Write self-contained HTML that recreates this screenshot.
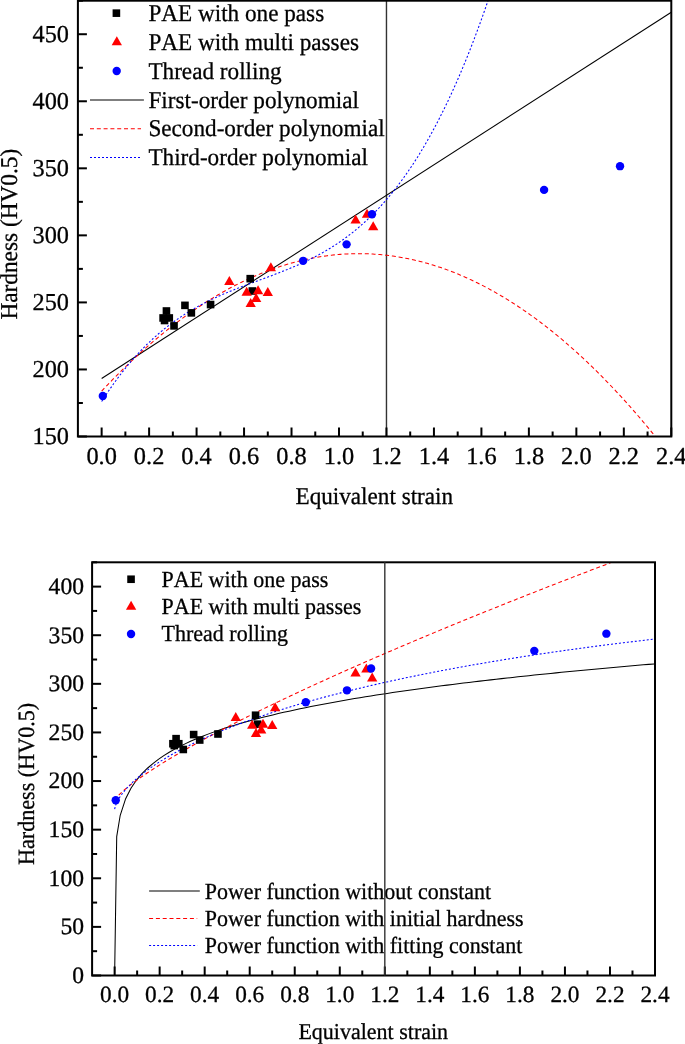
<!DOCTYPE html><html><head><meta charset="utf-8"><style>html,body{margin:0;padding:0;background:#fff;}svg{display:block} text{text-rendering:geometricPrecision;font-kerning:none;fill:#000}</style></head><body>
<svg width="685" height="1044" viewBox="0 0 685 1044" style="font-family:'Liberation Serif',serif">
<rect width="685" height="1044" fill="#fff"/>
<defs><clipPath id="ct"><rect x="77.90" y="0.70" width="593.40" height="435.80"/></clipPath>
<clipPath id="cb"><rect x="92.10" y="562.30" width="562.90" height="413.20"/></clipPath></defs>
<line x1="386.47" y1="0.70" x2="386.47" y2="436.50" stroke="#333" stroke-width="1.4"/>
<g clip-path="url(#ct)" fill="none" stroke-width="1.05">
<path d="M101.64,378.44 L671.30,12.21" stroke="#000"/>
<path d="M101.64,391.14 L103.06,389.61 L104.49,388.10 L105.92,386.59 L107.35,385.10 L108.77,383.61 L110.20,382.13 L111.63,380.66 L113.06,379.19 L114.49,377.74 L115.91,376.29 L117.34,374.86 L118.77,373.43 L120.20,372.01 L121.62,370.59 L123.05,369.19 L124.48,367.79 L125.91,366.41 L127.34,365.03 L128.76,363.66 L130.19,362.30 L131.62,360.95 L133.05,359.60 L134.47,358.26 L135.90,356.94 L137.33,355.62 L138.76,354.31 L140.18,353.01 L141.61,351.71 L143.04,350.43 L144.47,349.15 L145.90,347.88 L147.32,346.62 L148.75,345.37 L150.18,344.13 L151.61,342.89 L153.03,341.67 L154.46,340.45 L155.89,339.24 L157.32,338.04 L158.75,336.85 L160.17,335.67 L161.60,334.49 L163.03,333.33 L164.46,332.17 L165.88,331.02 L167.31,329.88 L168.74,328.74 L170.17,327.62 L171.59,326.51 L173.02,325.40 L174.45,324.30 L175.88,323.21 L177.31,322.13 L178.73,321.05 L180.16,319.99 L181.59,318.93 L183.02,317.89 L184.44,316.85 L185.87,315.82 L187.30,314.79 L188.73,313.78 L190.16,312.77 L191.58,311.78 L193.01,310.79 L194.44,309.81 L195.87,308.84 L197.29,307.87 L198.72,306.92 L200.15,305.97 L201.58,305.04 L203.00,304.11 L204.43,303.19 L205.86,302.27 L207.29,301.37 L208.72,300.48 L210.14,299.59 L211.57,298.71 L213.00,297.84 L214.43,296.98 L215.85,296.13 L217.28,295.28 L218.71,294.45 L220.14,293.62 L221.57,292.80 L222.99,291.99 L224.42,291.19 L225.85,290.39 L227.28,289.61 L228.70,288.83 L230.13,288.06 L231.56,287.30 L232.99,286.55 L234.41,285.81 L235.84,285.08 L237.27,284.35 L238.70,283.63 L240.13,282.92 L241.55,282.22 L242.98,281.53 L244.41,280.85 L245.84,280.17 L247.26,279.51 L248.69,278.85 L250.12,278.20 L251.55,277.56 L252.98,276.93 L254.40,276.30 L255.83,275.69 L257.26,275.08 L258.69,274.48 L260.11,273.89 L261.54,273.31 L262.97,272.74 L264.40,272.17 L265.82,271.62 L267.25,271.07 L268.68,270.53 L270.11,270.00 L271.54,269.48 L272.96,268.96 L274.39,268.46 L275.82,267.96 L277.25,267.47 L278.67,266.99 L280.10,266.52 L281.53,266.06 L282.96,265.60 L284.39,265.16 L285.81,264.72 L287.24,264.29 L288.67,263.87 L290.10,263.46 L291.52,263.06 L292.95,262.66 L294.38,262.27 L295.81,261.90 L297.23,261.53 L298.66,261.17 L300.09,260.81 L301.52,260.47 L302.95,260.13 L304.37,259.81 L305.80,259.49 L307.23,259.18 L308.66,258.87 L310.08,258.58 L311.51,258.30 L312.94,258.02 L314.37,257.75 L315.80,257.49 L317.22,257.24 L318.65,257.00 L320.08,256.76 L321.51,256.54 L322.93,256.32 L324.36,256.11 L325.79,255.91 L327.22,255.72 L328.64,255.54 L330.07,255.36 L331.50,255.20 L332.93,255.04 L334.36,254.89 L335.78,254.75 L337.21,254.62 L338.64,254.49 L340.07,254.38 L341.49,254.27 L342.92,254.17 L344.35,254.08 L345.78,254.00 L347.21,253.93 L348.63,253.86 L350.06,253.81 L351.49,253.76 L352.92,253.72 L354.34,253.69 L355.77,253.67 L357.20,253.65 L358.63,253.65 L360.06,253.65 L361.48,253.66 L362.91,253.68 L364.34,253.71 L365.77,253.75 L367.19,253.80 L368.62,253.85 L370.05,253.91 L371.48,253.98 L372.90,254.06 L374.33,254.15 L375.76,254.25 L377.19,254.35 L378.62,254.47 L380.04,254.59 L381.47,254.72 L382.90,254.86 L384.33,255.00 L385.75,255.16 L387.18,255.32 L388.61,255.50 L390.04,255.68 L391.47,255.87 L392.89,256.07 L394.32,256.27 L395.75,256.49 L397.18,256.71 L398.60,256.94 L400.03,257.18 L401.46,257.43 L402.89,257.69 L404.31,257.96 L405.74,258.23 L407.17,258.51 L408.60,258.81 L410.03,259.11 L411.45,259.41 L412.88,259.73 L414.31,260.06 L415.74,260.39 L417.16,260.73 L418.59,261.08 L420.02,261.44 L421.45,261.81 L422.88,262.19 L424.30,262.57 L425.73,262.96 L427.16,263.37 L428.59,263.78 L430.01,264.20 L431.44,264.62 L432.87,265.06 L434.30,265.50 L435.72,265.95 L437.15,266.42 L438.58,266.88 L440.01,267.36 L441.44,267.85 L442.86,268.34 L444.29,268.85 L445.72,269.36 L447.15,269.88 L448.57,270.41 L450.00,270.95 L451.43,271.49 L452.86,272.05 L454.29,272.61 L455.71,273.18 L457.14,273.76 L458.57,274.35 L460.00,274.94 L461.42,275.55 L462.85,276.16 L464.28,276.78 L465.71,277.41 L467.13,278.05 L468.56,278.70 L469.99,279.36 L471.42,280.02 L472.85,280.69 L474.27,281.38 L475.70,282.07 L477.13,282.76 L478.56,283.47 L479.98,284.19 L481.41,284.91 L482.84,285.64 L484.27,286.38 L485.70,287.13 L487.12,287.89 L488.55,288.66 L489.98,289.43 L491.41,290.21 L492.83,291.00 L494.26,291.80 L495.69,292.61 L497.12,293.43 L498.54,294.26 L499.97,295.09 L501.40,295.93 L502.83,296.78 L504.26,297.64 L505.68,298.51 L507.11,299.39 L508.54,300.27 L509.97,301.16 L511.39,302.07 L512.82,302.98 L514.25,303.90 L515.68,304.82 L517.11,305.76 L518.53,306.70 L519.96,307.65 L521.39,308.62 L522.82,309.59 L524.24,310.56 L525.67,311.55 L527.10,312.54 L528.53,313.55 L529.95,314.56 L531.38,315.58 L532.81,316.61 L534.24,317.65 L535.67,318.69 L537.09,319.75 L538.52,320.81 L539.95,321.88 L541.38,322.96 L542.80,324.05 L544.23,325.15 L545.66,326.25 L547.09,327.36 L548.52,328.49 L549.94,329.62 L551.37,330.76 L552.80,331.90 L554.23,333.06 L555.65,334.22 L557.08,335.40 L558.51,336.58 L559.94,337.77 L561.36,338.97 L562.79,340.17 L564.22,341.39 L565.65,342.61 L567.08,343.85 L568.50,345.09 L569.93,346.34 L571.36,347.59 L572.79,348.86 L574.21,350.13 L575.64,351.42 L577.07,352.71 L578.50,354.01 L579.93,355.32 L581.35,356.63 L582.78,357.96 L584.21,359.29 L585.64,360.64 L587.06,361.99 L588.49,363.35 L589.92,364.72 L591.35,366.09 L592.77,367.48 L594.20,368.87 L595.63,370.27 L597.06,371.68 L598.49,373.10 L599.91,374.53 L601.34,375.96 L602.77,377.41 L604.20,378.86 L605.62,380.32 L607.05,381.79 L608.48,383.27 L609.91,384.76 L611.34,386.25 L612.76,387.75 L614.19,389.27 L615.62,390.79 L617.05,392.32 L618.47,393.85 L619.90,395.40 L621.33,396.95 L622.76,398.52 L624.18,400.09 L625.61,401.67 L627.04,403.26 L628.47,404.85 L629.90,406.46 L631.32,408.07 L632.75,409.69 L634.18,411.33 L635.61,412.96 L637.03,414.61 L638.46,416.27 L639.89,417.93 L641.32,419.61 L642.75,421.29 L644.17,422.98 L645.60,424.68 L647.03,426.38 L648.46,428.10 L649.88,429.82 L651.31,431.55 L652.74,433.30 L654.17,435.04 L655.59,436.80 L657.02,438.57 L658.45,440.34 L659.88,442.13 L661.31,443.92 L662.73,445.72 L664.16,447.53 L665.59,449.34 L667.02,451.17 L668.44,453.00 L669.87,454.85 L671.30,456.70" stroke="#f00" stroke-dasharray="4,2.8"/>
<path d="M101.64,401.57 L102.65,399.98 L103.66,398.42 L104.67,396.86 L105.68,395.32 L106.69,393.80 L107.70,392.29 L108.72,390.80 L109.73,389.32 L110.74,387.86 L111.75,386.41 L112.76,384.98 L113.77,383.56 L114.78,382.15 L115.79,380.76 L116.81,379.39 L117.82,378.02 L118.83,376.68 L119.84,375.34 L120.85,374.02 L121.86,372.72 L122.87,371.42 L123.88,370.15 L124.90,368.88 L125.91,367.63 L126.92,366.39 L127.93,365.16 L128.94,363.95 L129.95,362.75 L130.96,361.56 L131.98,360.39 L132.99,359.23 L134.00,358.08 L135.01,356.94 L136.02,355.82 L137.03,354.71 L138.04,353.61 L139.05,352.52 L140.07,351.45 L141.08,350.38 L142.09,349.33 L143.10,348.29 L144.11,347.26 L145.12,346.24 L146.13,345.24 L147.14,344.24 L148.16,343.26 L149.17,342.29 L150.18,341.33 L151.19,340.38 L152.20,339.44 L153.21,338.51 L154.22,337.59 L155.24,336.68 L156.25,335.78 L157.26,334.89 L158.27,334.02 L159.28,333.15 L160.29,332.29 L161.30,331.44 L162.31,330.61 L163.33,329.78 L164.34,328.96 L165.35,328.15 L166.36,327.35 L167.37,326.56 L168.38,325.78 L169.39,325.00 L170.40,324.24 L171.42,323.49 L172.43,322.74 L173.44,322.00 L174.45,321.27 L175.46,320.55 L176.47,319.84 L177.48,319.14 L178.50,318.44 L179.51,317.75 L180.52,317.07 L181.53,316.40 L182.54,315.74 L183.55,315.08 L184.56,314.43 L185.57,313.79 L186.59,313.15 L187.60,312.52 L188.61,311.90 L189.62,311.29 L190.63,310.69 L191.64,310.09 L192.65,309.49 L193.67,308.91 L194.68,308.33 L195.69,307.75 L196.70,307.19 L197.71,306.63 L198.72,306.07 L199.73,305.52 L200.74,304.98 L201.76,304.44 L202.77,303.91 L203.78,303.39 L204.79,302.87 L205.80,302.35 L206.81,301.84 L207.82,301.34 L208.83,300.84 L209.85,300.34 L210.86,299.85 L211.87,299.37 L212.88,298.89 L213.89,298.42 L214.90,297.94 L215.91,297.48 L216.93,297.02 L217.94,296.56 L218.95,296.10 L219.96,295.65 L220.97,295.21 L221.98,294.77 L222.99,294.33 L224.00,293.89 L225.02,293.46 L226.03,293.03 L227.04,292.61 L228.05,292.19 L229.06,291.77 L230.07,291.35 L231.08,290.94 L232.09,290.53 L233.11,290.13 L234.12,289.72 L235.13,289.32 L236.14,288.92 L237.15,288.52 L238.16,288.13 L239.17,287.73 L240.19,287.34 L241.20,286.95 L242.21,286.57 L243.22,286.18 L244.23,285.80 L245.24,285.41 L246.25,285.03 L247.26,284.65 L248.28,284.27 L249.29,283.89 L250.30,283.52 L251.31,283.14 L252.32,282.77 L253.33,282.39 L254.34,282.02 L255.35,281.64 L256.37,281.27 L257.38,280.90 L258.39,280.52 L259.40,280.15 L260.41,279.78 L261.42,279.41 L262.43,279.03 L263.45,278.66 L264.46,278.29 L265.47,277.91 L266.48,277.54 L267.49,277.16 L268.50,276.78 L269.51,276.40 L270.52,276.03 L271.54,275.65 L272.55,275.26 L273.56,274.88 L274.57,274.50 L275.58,274.11 L276.59,273.73 L277.60,273.34 L278.61,272.95 L279.63,272.55 L280.64,272.16 L281.65,271.76 L282.66,271.36 L283.67,270.96 L284.68,270.56 L285.69,270.15 L286.71,269.74 L287.72,269.33 L288.73,268.91 L289.74,268.49 L290.75,268.07 L291.76,267.65 L292.77,267.22 L293.78,266.79 L294.80,266.36 L295.81,265.92 L296.82,265.48 L297.83,265.03 L298.84,264.58 L299.85,264.13 L300.86,263.67 L301.88,263.21 L302.89,262.74 L303.90,262.27 L304.91,261.80 L305.92,261.32 L306.93,260.84 L307.94,260.35 L308.95,259.85 L309.97,259.36 L310.98,258.85 L311.99,258.34 L313.00,257.83 L314.01,257.31 L315.02,256.79 L316.03,256.25 L317.04,255.72 L318.06,255.18 L319.07,254.63 L320.08,254.07 L321.09,253.51 L322.10,252.95 L323.11,252.38 L324.12,251.80 L325.14,251.21 L326.15,250.62 L327.16,250.02 L328.17,249.42 L329.18,248.80 L330.19,248.18 L331.20,247.56 L332.21,246.92 L333.23,246.28 L334.24,245.63 L335.25,244.98 L336.26,244.32 L337.27,243.64 L338.28,242.96 L339.29,242.28 L340.30,241.58 L341.32,240.88 L342.33,240.17 L343.34,239.45 L344.35,238.72 L345.36,237.98 L346.37,237.24 L347.38,236.49 L348.40,235.72 L349.41,234.95 L350.42,234.17 L351.43,233.38 L352.44,232.58 L353.45,231.77 L354.46,230.96 L355.47,230.13 L356.49,229.29 L357.50,228.45 L358.51,227.59 L359.52,226.72 L360.53,225.85 L361.54,224.96 L362.55,224.06 L363.56,223.16 L364.58,222.24 L365.59,221.31 L366.60,220.37 L367.61,219.42 L368.62,218.46 L369.63,217.49 L370.64,216.51 L371.66,215.52 L372.67,214.51 L373.68,213.50 L374.69,212.47 L375.70,211.43 L376.71,210.38 L377.72,209.32 L378.73,208.25 L379.75,207.16 L380.76,206.06 L381.77,204.95 L382.78,203.83 L383.79,202.69 L384.80,201.55 L385.81,200.39 L386.82,199.22 L387.84,198.03 L388.85,196.83 L389.86,195.62 L390.87,194.40 L391.88,193.16 L392.89,191.91 L393.90,190.65 L394.92,189.37 L395.93,188.08 L396.94,186.77 L397.95,185.46 L398.96,184.12 L399.97,182.78 L400.98,181.42 L401.99,180.04 L403.01,178.66 L404.02,177.25 L405.03,175.84 L406.04,174.40 L407.05,172.96 L408.06,171.50 L409.07,170.02 L410.09,168.53 L411.10,167.02 L412.11,165.50 L413.12,163.97 L414.13,162.41 L415.14,160.85 L416.15,159.26 L417.16,157.67 L418.18,156.05 L419.19,154.42 L420.20,152.77 L421.21,151.11 L422.22,149.43 L423.23,147.74 L424.24,146.03 L425.25,144.30 L426.27,142.56 L427.28,140.80 L428.29,139.02 L429.30,137.22 L430.31,135.41 L431.32,133.58 L432.33,131.74 L433.35,129.87 L434.36,127.99 L435.37,126.10 L436.38,124.18 L437.39,122.25 L438.40,120.30 L439.41,118.33 L440.42,116.34 L441.44,114.34 L442.45,112.31 L443.46,110.27 L444.47,108.21 L445.48,106.13 L446.49,104.04 L447.50,101.92 L448.51,99.79 L449.53,97.63 L450.54,95.46 L451.55,93.27 L452.56,91.06 L453.57,88.83 L454.58,86.58 L455.59,84.31 L456.61,82.02 L457.62,79.71 L458.63,77.39 L459.64,75.04 L460.65,72.67 L461.66,70.28 L462.67,67.87 L463.68,65.45 L464.70,63.00 L465.71,60.53 L466.72,58.04 L467.73,55.53 L468.74,53.00 L469.75,50.44 L470.76,47.87 L471.77,45.28 L472.79,42.66 L473.80,40.02 L474.81,37.36 L475.82,34.68 L476.83,31.98 L477.84,29.26 L478.85,26.51 L479.87,23.75 L480.88,20.96 L481.89,18.15 L482.90,15.31 L483.91,12.46 L484.92,9.58 L485.93,6.68 L486.94,3.75 L487.96,0.81 L488.97,-2.16 L489.98,-5.15 L490.99,-8.17 L492.00,-11.21 L493.01,-14.27 L494.02,-17.35 L495.03,-20.46 L496.05,-23.59 L497.06,-26.75 L498.07,-29.92 L499.08,-33.13 L500.09,-36.35 L501.10,-39.61 L502.11,-42.88 L503.13,-46.18 L504.14,-49.50 L505.15,-52.85" stroke="#00f" stroke-dasharray="2,2"/>
</g>
<rect x="162.64" y="307.19" width="7.60" height="7.60" fill="#000"/>
<rect x="159.31" y="314.16" width="7.60" height="7.60" fill="#000"/>
<rect x="165.48" y="314.16" width="7.60" height="7.60" fill="#000"/>
<rect x="160.74" y="316.71" width="7.60" height="7.60" fill="#000"/>
<rect x="170.23" y="322.07" width="7.60" height="7.60" fill="#000"/>
<rect x="181.15" y="301.56" width="7.60" height="7.60" fill="#000"/>
<rect x="187.56" y="309.07" width="7.60" height="7.60" fill="#000"/>
<rect x="206.78" y="300.75" width="7.60" height="7.60" fill="#000"/>
<rect x="246.42" y="274.87" width="7.60" height="7.60" fill="#000"/>
<rect x="248.56" y="287.21" width="7.60" height="7.60" fill="#000"/>
<polygon points="229.34,275.92 224.19,284.92 234.49,284.92" fill="#f00"/>
<polygon points="270.87,262.37 265.72,271.37 276.02,271.37" fill="#f00"/>
<polygon points="246.66,286.64 241.51,295.64 251.81,295.64" fill="#f00"/>
<polygon points="258.06,285.17 252.91,294.17 263.21,294.17" fill="#f00"/>
<polygon points="267.79,286.91 262.64,295.91 272.94,295.91" fill="#f00"/>
<polygon points="256.16,293.08 251.01,302.08 261.31,302.08" fill="#f00"/>
<polygon points="250.70,297.91 245.55,306.91 255.85,306.91" fill="#f00"/>
<polygon points="355.61,214.50 350.46,223.50 360.76,223.50" fill="#f00"/>
<polygon points="367.00,208.87 361.85,217.87 372.15,217.87" fill="#f00"/>
<polygon points="373.18,221.34 368.03,230.34 378.33,230.34" fill="#f00"/>
<circle cx="102.82" cy="396.00" r="4.20" fill="#00f"/>
<circle cx="303.15" cy="260.84" r="4.20" fill="#00f"/>
<circle cx="346.59" cy="244.35" r="4.20" fill="#00f"/>
<circle cx="371.99" cy="214.31" r="4.20" fill="#00f"/>
<circle cx="544.08" cy="189.90" r="4.20" fill="#00f"/>
<circle cx="620.03" cy="166.17" r="4.20" fill="#00f"/>
<g stroke="#000" stroke-width="2">
<line x1="101.64" y1="436.50" x2="101.64" y2="427.50"/>

<line x1="125.37" y1="436.50" x2="125.37" y2="431.50"/>
<line x1="149.11" y1="436.50" x2="149.11" y2="427.50"/>

<line x1="172.84" y1="436.50" x2="172.84" y2="431.50"/>
<line x1="196.58" y1="436.50" x2="196.58" y2="427.50"/>

<line x1="220.32" y1="436.50" x2="220.32" y2="431.50"/>
<line x1="244.05" y1="436.50" x2="244.05" y2="427.50"/>

<line x1="267.79" y1="436.50" x2="267.79" y2="431.50"/>
<line x1="291.52" y1="436.50" x2="291.52" y2="427.50"/>

<line x1="315.26" y1="436.50" x2="315.26" y2="431.50"/>
<line x1="339.00" y1="436.50" x2="339.00" y2="427.50"/>

<line x1="362.73" y1="436.50" x2="362.73" y2="431.50"/>
<line x1="386.47" y1="436.50" x2="386.47" y2="427.50"/>

<line x1="410.20" y1="436.50" x2="410.20" y2="431.50"/>
<line x1="433.94" y1="436.50" x2="433.94" y2="427.50"/>

<line x1="457.68" y1="436.50" x2="457.68" y2="431.50"/>
<line x1="481.41" y1="436.50" x2="481.41" y2="427.50"/>

<line x1="505.15" y1="436.50" x2="505.15" y2="431.50"/>
<line x1="528.88" y1="436.50" x2="528.88" y2="427.50"/>

<line x1="552.62" y1="436.50" x2="552.62" y2="431.50"/>
<line x1="576.36" y1="436.50" x2="576.36" y2="427.50"/>

<line x1="600.09" y1="436.50" x2="600.09" y2="431.50"/>
<line x1="623.83" y1="436.50" x2="623.83" y2="427.50"/>

<line x1="647.56" y1="436.50" x2="647.56" y2="431.50"/>
<line x1="671.30" y1="436.50" x2="671.30" y2="427.50"/>

<line x1="77.90" y1="436.50" x2="86.90" y2="436.50"/>

<line x1="77.90" y1="402.98" x2="82.90" y2="402.98"/>
<line x1="77.90" y1="369.45" x2="86.90" y2="369.45"/>

<line x1="77.90" y1="335.93" x2="82.90" y2="335.93"/>
<line x1="77.90" y1="302.41" x2="86.90" y2="302.41"/>

<line x1="77.90" y1="268.88" x2="82.90" y2="268.88"/>
<line x1="77.90" y1="235.36" x2="86.90" y2="235.36"/>

<line x1="77.90" y1="201.84" x2="82.90" y2="201.84"/>
<line x1="77.90" y1="168.32" x2="86.90" y2="168.32"/>

<line x1="77.90" y1="134.79" x2="82.90" y2="134.79"/>
<line x1="77.90" y1="101.27" x2="86.90" y2="101.27"/>

<line x1="77.90" y1="67.75" x2="82.90" y2="67.75"/>
<line x1="77.90" y1="34.22" x2="86.90" y2="34.22"/>

<line x1="77.90" y1="0.70" x2="82.90" y2="0.70"/>
<rect x="77.90" y="0.70" width="593.40" height="435.80" fill="none"/>
</g>






<rect x="112.60" y="9.35" width="7.60" height="7.60" fill="#000"/>
<polygon points="116.80,36.30 111.65,45.30 121.95,45.30" fill="#f00"/>
<circle cx="116.70" cy="70.95" r="4.20" fill="#00f"/>
<line x1="90.0" y1="100.0" x2="143.9" y2="100.0" stroke="#000" stroke-width="1.05"/>
<line x1="90.0" y1="128.8" x2="141.0" y2="128.8" stroke="#f00" stroke-width="1.05" stroke-dasharray="4,2.8"/>
<line x1="90.0" y1="157.4" x2="141.0" y2="157.4" stroke="#00f" stroke-width="1.05" stroke-dasharray="2,2"/>


<g clip-path="url(#cb)" fill="none" stroke-width="1.05">
<path d="M114.62,975.50 L116.71,836.67 L120.22,815.26 L125.65,798.66 L131.10,788.02 L136.55,780.06 L142.00,773.64 L147.44,768.23 L152.89,763.54 L158.34,759.39 L163.79,755.67 L169.24,752.28 L174.69,749.16 L180.14,746.28 L185.59,743.60 L191.04,741.09 L196.48,738.73 L201.93,736.49 L207.38,734.38 L212.83,732.37 L218.28,730.45 L223.73,728.61 L229.18,726.85 L234.63,725.17 L240.08,723.54 L245.52,721.98 L250.97,720.47 L256.42,719.01 L261.87,717.59 L267.32,716.23 L272.77,714.90 L278.22,713.61 L283.67,712.36 L289.12,711.14 L294.56,709.95 L300.01,708.80 L305.46,707.67 L310.91,706.57 L316.36,705.49 L321.81,704.44 L327.26,703.42 L332.71,702.41 L338.15,701.43 L343.60,700.47 L349.05,699.52 L354.50,698.60 L359.95,697.69 L365.40,696.80 L370.85,695.93 L376.30,695.07 L381.75,694.23 L387.19,693.40 L392.64,692.58 L398.09,691.78 L403.54,691.00 L408.99,690.22 L414.44,689.46 L419.89,688.71 L425.34,687.97 L430.79,687.24 L436.23,686.52 L441.68,685.81 L447.13,685.11 L452.58,684.43 L458.03,683.75 L463.48,683.08 L468.93,682.42 L474.38,681.76 L479.83,681.12 L485.27,680.49 L490.72,679.86 L496.17,679.24 L501.62,678.63 L507.07,678.02 L512.52,677.42 L517.97,676.83 L523.42,676.25 L528.87,675.67 L534.31,675.10 L539.76,674.53 L545.21,673.98 L550.66,673.42 L556.11,672.88 L561.56,672.33 L567.01,671.80 L572.46,671.27 L577.91,670.74 L583.35,670.23 L588.80,669.71 L594.25,669.20 L599.70,668.70 L605.15,668.20 L610.60,667.70 L616.05,667.21 L621.50,666.73 L626.95,666.25 L632.39,665.77 L637.84,665.30 L643.29,664.83 L648.74,664.36 L654.19,663.90 L655.00,663.84" stroke="#000"/>
<path d="M114.62,800.50 L115.97,798.28 L117.32,796.66 L118.68,795.21 L120.03,793.86 L121.39,792.57 L122.74,791.34 L124.10,790.15 L125.45,789.00 L126.81,787.87 L128.16,786.77 L129.51,785.70 L130.87,784.64 L132.22,783.60 L133.58,782.58 L134.93,781.57 L136.29,780.58 L137.64,779.60 L138.99,778.63 L140.35,777.68 L141.70,776.73 L143.06,775.79 L144.41,774.87 L145.77,773.95 L147.12,773.04 L148.47,772.14 L149.83,771.24 L151.18,770.35 L152.54,769.47 L153.89,768.60 L155.25,767.73 L156.60,766.87 L157.96,766.01 L159.31,765.16 L160.66,764.32 L162.02,763.48 L163.37,762.64 L164.73,761.81 L166.08,760.98 L167.44,760.16 L168.79,759.35 L170.14,758.53 L171.50,757.72 L172.85,756.92 L174.21,756.12 L175.56,755.32 L176.92,754.53 L178.27,753.74 L179.62,752.95 L180.98,752.17 L182.33,751.39 L183.69,750.61 L185.04,749.84 L186.40,749.07 L187.75,748.30 L189.11,747.54 L190.46,746.78 L191.81,746.02 L193.17,745.26 L194.52,744.51 L195.88,743.76 L197.23,743.01 L198.59,742.27 L199.94,741.52 L201.29,740.78 L202.65,740.05 L204.00,739.31 L205.36,738.58 L206.71,737.85 L208.07,737.12 L209.42,736.39 L210.77,735.67 L212.13,734.95 L213.48,734.23 L214.84,733.51 L216.19,732.79 L217.55,732.08 L218.90,731.36 L220.25,730.65 L221.61,729.95 L222.96,729.24 L224.32,728.54 L225.67,727.83 L227.03,727.13 L228.38,726.43 L229.74,725.73 L231.09,725.04 L232.44,724.34 L233.80,723.65 L235.15,722.96 L236.51,722.27 L237.86,721.58 L239.22,720.90 L240.57,720.21 L241.92,719.53 L243.28,718.85 L244.63,718.17 L245.99,717.49 L247.34,716.81 L248.70,716.14 L250.05,715.46 L251.40,714.79 L252.76,714.12 L254.11,713.45 L255.47,712.78 L256.82,712.11 L258.18,711.45 L259.53,710.78 L260.89,710.12 L262.24,709.46 L263.59,708.80 L264.95,708.14 L266.30,707.48 L267.66,706.82 L269.01,706.16 L270.37,705.51 L271.72,704.86 L273.07,704.20 L274.43,703.55 L275.78,702.90 L277.14,702.25 L278.49,701.61 L279.85,700.96 L281.20,700.31 L282.55,699.67 L283.91,699.02 L285.26,698.38 L286.62,697.74 L287.97,697.10 L289.33,696.46 L290.68,695.82 L292.04,695.19 L293.39,694.55 L294.74,693.91 L296.10,693.28 L297.45,692.65 L298.81,692.01 L300.16,691.38 L301.52,690.75 L302.87,690.12 L304.22,689.49 L305.58,688.87 L306.93,688.24 L308.29,687.61 L309.64,686.99 L311.00,686.37 L312.35,685.74 L313.70,685.12 L315.06,684.50 L316.41,683.88 L317.77,683.26 L319.12,682.64 L320.48,682.02 L321.83,681.41 L323.19,680.79 L324.54,680.18 L325.89,679.56 L327.25,678.95 L328.60,678.33 L329.96,677.72 L331.31,677.11 L332.67,676.50 L334.02,675.89 L335.37,675.28 L336.73,674.67 L338.08,674.07 L339.44,673.46 L340.79,672.85 L342.15,672.25 L343.50,671.65 L344.85,671.04 L346.21,670.44 L347.56,669.84 L348.92,669.24 L350.27,668.63 L351.63,668.04 L352.98,667.44 L354.34,666.84 L355.69,666.24 L357.04,665.64 L358.40,665.05 L359.75,664.45 L361.11,663.86 L362.46,663.26 L363.82,662.67 L365.17,662.07 L366.52,661.48 L367.88,660.89 L369.23,660.30 L370.59,659.71 L371.94,659.12 L373.30,658.53 L374.65,657.94 L376.00,657.35 L377.36,656.77 L378.71,656.18 L380.07,655.59 L381.42,655.01 L382.78,654.42 L384.13,653.84 L385.49,653.26 L386.84,652.67 L388.19,652.09 L389.55,651.51 L390.90,650.93 L392.26,650.35 L393.61,649.77 L394.97,649.19 L396.32,648.61 L397.67,648.03 L399.03,647.46 L400.38,646.88 L401.74,646.30 L403.09,645.73 L404.45,645.15 L405.80,644.58 L407.15,644.00 L408.51,643.43 L409.86,642.86 L411.22,642.28 L412.57,641.71 L413.93,641.14 L415.28,640.57 L416.64,640.00 L417.99,639.43 L419.34,638.86 L420.70,638.29 L422.05,637.72 L423.41,637.16 L424.76,636.59 L426.12,636.02 L427.47,635.46 L428.82,634.89 L430.18,634.32 L431.53,633.76 L432.89,633.20 L434.24,632.63 L435.60,632.07 L436.95,631.51 L438.30,630.94 L439.66,630.38 L441.01,629.82 L442.37,629.26 L443.72,628.70 L445.08,628.14 L446.43,627.58 L447.79,627.02 L449.14,626.46 L450.49,625.91 L451.85,625.35 L453.20,624.79 L454.56,624.24 L455.91,623.68 L457.27,623.12 L458.62,622.57 L459.97,622.01 L461.33,621.46 L462.68,620.91 L464.04,620.35 L465.39,619.80 L466.75,619.25 L468.10,618.70 L469.45,618.14 L470.81,617.59 L472.16,617.04 L473.52,616.49 L474.87,615.94 L476.23,615.39 L477.58,614.84 L478.94,614.30 L480.29,613.75 L481.64,613.20 L483.00,612.65 L484.35,612.11 L485.71,611.56 L487.06,611.01 L488.42,610.47 L489.77,609.92 L491.12,609.38 L492.48,608.83 L493.83,608.29 L495.19,607.75 L496.54,607.20 L497.90,606.66 L499.25,606.12 L500.60,605.58 L501.96,605.04 L503.31,604.49 L504.67,603.95 L506.02,603.41 L507.38,602.87 L508.73,602.33 L510.08,601.79 L511.44,601.26 L512.79,600.72 L514.15,600.18 L515.50,599.64 L516.86,599.10 L518.21,598.57 L519.57,598.03 L520.92,597.49 L522.27,596.96 L523.63,596.42 L524.98,595.89 L526.34,595.35 L527.69,594.82 L529.05,594.29 L530.40,593.75 L531.75,593.22 L533.11,592.69 L534.46,592.15 L535.82,591.62 L537.17,591.09 L538.53,590.56 L539.88,590.03 L541.23,589.50 L542.59,588.97 L543.94,588.44 L545.30,587.91 L546.65,587.38 L548.01,586.85 L549.36,586.32 L550.72,585.79 L552.07,585.26 L553.42,584.73 L554.78,584.21 L556.13,583.68 L557.49,583.15 L558.84,582.63 L560.20,582.10 L561.55,581.58 L562.90,581.05 L564.26,580.53 L565.61,580.00 L566.97,579.48 L568.32,578.95 L569.68,578.43 L571.03,577.91 L572.38,577.38 L573.74,576.86 L575.09,576.34 L576.45,575.82 L577.80,575.29 L579.16,574.77 L580.51,574.25 L581.87,573.73 L583.22,573.21 L584.57,572.69 L585.93,572.17 L587.28,571.65 L588.64,571.13 L589.99,570.61 L591.35,570.09 L592.70,569.58 L594.05,569.06 L595.41,568.54 L596.76,568.02 L598.12,567.51 L599.47,566.99 L600.83,566.47 L602.18,565.96 L603.53,565.44 L604.89,564.92 L606.24,564.41 L607.60,563.89 L608.95,563.38 L610.31,562.87 L611.66,562.35 L613.02,561.84 L614.37,561.32 L615.72,560.81 L617.08,560.30 L618.43,559.79 L619.79,559.27 L621.14,558.76 L622.50,558.25 L623.85,557.74 L625.20,557.23 L626.56,556.72 L627.91,556.20 L629.27,555.69 L630.62,555.18 L631.98,554.67 L633.33,554.16 L634.68,553.66 L636.04,553.15 L637.39,552.64 L638.75,552.13 L640.10,551.62 L641.46,551.11 L642.81,550.61 L644.17,550.10 L645.52,549.59 L646.87,549.08 L648.23,548.58 L649.58,548.07 L650.94,547.56 L652.29,547.06 L653.65,546.55 L655.00,546.05" stroke="#f00" stroke-dasharray="4,2.8"/>
<path d="M114.62,809.13 L115.97,804.23 L117.32,801.33 L118.68,798.91 L120.03,796.78 L121.39,794.83 L122.74,793.03 L124.10,791.33 L125.45,789.73 L126.81,788.20 L128.16,786.74 L129.51,785.34 L130.87,783.98 L132.22,782.68 L133.58,781.41 L134.93,780.17 L136.29,778.98 L137.64,777.81 L138.99,776.67 L140.35,775.56 L141.70,774.47 L143.06,773.41 L144.41,772.36 L145.77,771.34 L147.12,770.34 L148.47,769.36 L149.83,768.39 L151.18,767.44 L152.54,766.50 L153.89,765.58 L155.25,764.68 L156.60,763.79 L157.96,762.91 L159.31,762.04 L160.66,761.19 L162.02,760.35 L163.37,759.52 L164.73,758.70 L166.08,757.89 L167.44,757.09 L168.79,756.30 L170.14,755.52 L171.50,754.75 L172.85,753.98 L174.21,753.23 L175.56,752.48 L176.92,751.75 L178.27,751.02 L179.62,750.30 L180.98,749.58 L182.33,748.88 L183.69,748.18 L185.04,747.48 L186.40,746.80 L187.75,746.12 L189.11,745.44 L190.46,744.78 L191.81,744.11 L193.17,743.46 L194.52,742.81 L195.88,742.17 L197.23,741.53 L198.59,740.90 L199.94,740.27 L201.29,739.65 L202.65,739.03 L204.00,738.42 L205.36,737.81 L206.71,737.21 L208.07,736.61 L209.42,736.02 L210.77,735.43 L212.13,734.85 L213.48,734.27 L214.84,733.69 L216.19,733.12 L217.55,732.56 L218.90,732.00 L220.25,731.44 L221.61,730.88 L222.96,730.33 L224.32,729.79 L225.67,729.24 L227.03,728.71 L228.38,728.17 L229.74,727.64 L231.09,727.11 L232.44,726.59 L233.80,726.06 L235.15,725.55 L236.51,725.03 L237.86,724.52 L239.22,724.01 L240.57,723.51 L241.92,723.01 L243.28,722.51 L244.63,722.01 L245.99,721.52 L247.34,721.03 L248.70,720.55 L250.05,720.06 L251.40,719.58 L252.76,719.10 L254.11,718.63 L255.47,718.16 L256.82,717.69 L258.18,717.22 L259.53,716.76 L260.89,716.30 L262.24,715.84 L263.59,715.38 L264.95,714.93 L266.30,714.48 L267.66,714.03 L269.01,713.58 L270.37,713.14 L271.72,712.70 L273.07,712.26 L274.43,711.82 L275.78,711.39 L277.14,710.96 L278.49,710.53 L279.85,710.10 L281.20,709.67 L282.55,709.25 L283.91,708.83 L285.26,708.41 L286.62,708.00 L287.97,707.58 L289.33,707.17 L290.68,706.76 L292.04,706.35 L293.39,705.94 L294.74,705.54 L296.10,705.14 L297.45,704.74 L298.81,704.34 L300.16,703.94 L301.52,703.55 L302.87,703.16 L304.22,702.77 L305.58,702.38 L306.93,701.99 L308.29,701.61 L309.64,701.22 L311.00,700.84 L312.35,700.46 L313.70,700.08 L315.06,699.71 L316.41,699.33 L317.77,698.96 L319.12,698.59 L320.48,698.22 L321.83,697.85 L323.19,697.49 L324.54,697.12 L325.89,696.76 L327.25,696.40 L328.60,696.04 L329.96,695.68 L331.31,695.32 L332.67,694.97 L334.02,694.62 L335.37,694.27 L336.73,693.92 L338.08,693.57 L339.44,693.22 L340.79,692.87 L342.15,692.53 L343.50,692.19 L344.85,691.85 L346.21,691.51 L347.56,691.17 L348.92,690.83 L350.27,690.50 L351.63,690.16 L352.98,689.83 L354.34,689.50 L355.69,689.17 L357.04,688.84 L358.40,688.51 L359.75,688.19 L361.11,687.86 L362.46,687.54 L363.82,687.22 L365.17,686.90 L366.52,686.58 L367.88,686.26 L369.23,685.94 L370.59,685.63 L371.94,685.31 L373.30,685.00 L374.65,684.69 L376.00,684.38 L377.36,684.07 L378.71,683.76 L380.07,683.46 L381.42,683.15 L382.78,682.85 L384.13,682.54 L385.49,682.24 L386.84,681.94 L388.19,681.64 L389.55,681.34 L390.90,681.04 L392.26,680.75 L393.61,680.45 L394.97,680.16 L396.32,679.87 L397.67,679.58 L399.03,679.28 L400.38,679.00 L401.74,678.71 L403.09,678.42 L404.45,678.13 L405.80,677.85 L407.15,677.56 L408.51,677.28 L409.86,677.00 L411.22,676.72 L412.57,676.44 L413.93,676.16 L415.28,675.88 L416.64,675.61 L417.99,675.33 L419.34,675.06 L420.70,674.78 L422.05,674.51 L423.41,674.24 L424.76,673.97 L426.12,673.70 L427.47,673.43 L428.82,673.16 L430.18,672.89 L431.53,672.63 L432.89,672.36 L434.24,672.10 L435.60,671.84 L436.95,671.57 L438.30,671.31 L439.66,671.05 L441.01,670.79 L442.37,670.54 L443.72,670.28 L445.08,670.02 L446.43,669.77 L447.79,669.51 L449.14,669.26 L450.49,669.01 L451.85,668.75 L453.20,668.50 L454.56,668.25 L455.91,668.00 L457.27,667.75 L458.62,667.51 L459.97,667.26 L461.33,667.01 L462.68,666.77 L464.04,666.53 L465.39,666.28 L466.75,666.04 L468.10,665.80 L469.45,665.56 L470.81,665.32 L472.16,665.08 L473.52,664.84 L474.87,664.60 L476.23,664.37 L477.58,664.13 L478.94,663.89 L480.29,663.66 L481.64,663.43 L483.00,663.19 L484.35,662.96 L485.71,662.73 L487.06,662.50 L488.42,662.27 L489.77,662.04 L491.12,661.81 L492.48,661.59 L493.83,661.36 L495.19,661.13 L496.54,660.91 L497.90,660.69 L499.25,660.46 L500.60,660.24 L501.96,660.02 L503.31,659.80 L504.67,659.57 L506.02,659.36 L507.38,659.14 L508.73,658.92 L510.08,658.70 L511.44,658.48 L512.79,658.27 L514.15,658.05 L515.50,657.84 L516.86,657.62 L518.21,657.41 L519.57,657.20 L520.92,656.98 L522.27,656.77 L523.63,656.56 L524.98,656.35 L526.34,656.14 L527.69,655.94 L529.05,655.73 L530.40,655.52 L531.75,655.31 L533.11,655.11 L534.46,654.90 L535.82,654.70 L537.17,654.49 L538.53,654.29 L539.88,654.09 L541.23,653.89 L542.59,653.69 L543.94,653.48 L545.30,653.29 L546.65,653.09 L548.01,652.89 L549.36,652.69 L550.72,652.49 L552.07,652.30 L553.42,652.10 L554.78,651.90 L556.13,651.71 L557.49,651.51 L558.84,651.32 L560.20,651.13 L561.55,650.94 L562.90,650.74 L564.26,650.55 L565.61,650.36 L566.97,650.17 L568.32,649.98 L569.68,649.79 L571.03,649.61 L572.38,649.42 L573.74,649.23 L575.09,649.05 L576.45,648.86 L577.80,648.67 L579.16,648.49 L580.51,648.31 L581.87,648.12 L583.22,647.94 L584.57,647.76 L585.93,647.58 L587.28,647.39 L588.64,647.21 L589.99,647.03 L591.35,646.85 L592.70,646.68 L594.05,646.50 L595.41,646.32 L596.76,646.14 L598.12,645.97 L599.47,645.79 L600.83,645.61 L602.18,645.44 L603.53,645.27 L604.89,645.09 L606.24,644.92 L607.60,644.75 L608.95,644.57 L610.31,644.40 L611.66,644.23 L613.02,644.06 L614.37,643.89 L615.72,643.72 L617.08,643.55 L618.43,643.38 L619.79,643.21 L621.14,643.05 L622.50,642.88 L623.85,642.71 L625.20,642.55 L626.56,642.38 L627.91,642.22 L629.27,642.05 L630.62,641.89 L631.98,641.73 L633.33,641.56 L634.68,641.40 L636.04,641.24 L637.39,641.08 L638.75,640.92 L640.10,640.76 L641.46,640.60 L642.81,640.44 L644.17,640.28 L645.52,640.12 L646.87,639.96 L648.23,639.81 L649.58,639.65 L650.94,639.49 L652.29,639.34 L653.65,639.18 L655.00,639.03" stroke="#00f" stroke-dasharray="2,2"/>
</g>
<rect x="172.28" y="734.86" width="7.60" height="7.60" fill="#000"/>
<rect x="169.13" y="739.92" width="7.60" height="7.60" fill="#000"/>
<rect x="174.99" y="739.92" width="7.60" height="7.60" fill="#000"/>
<rect x="170.48" y="741.77" width="7.60" height="7.60" fill="#000"/>
<rect x="179.49" y="745.66" width="7.60" height="7.60" fill="#000"/>
<rect x="189.85" y="730.78" width="7.60" height="7.60" fill="#000"/>
<rect x="195.93" y="736.22" width="7.60" height="7.60" fill="#000"/>
<rect x="214.16" y="730.20" width="7.60" height="7.60" fill="#000"/>
<rect x="251.77" y="711.43" width="7.60" height="7.60" fill="#000"/>
<rect x="253.79" y="720.38" width="7.60" height="7.60" fill="#000"/>
<polygon points="235.75,712.00 230.60,721.00 240.90,721.00" fill="#f00"/>
<polygon points="275.16,702.18 270.01,711.18 280.31,711.18" fill="#f00"/>
<polygon points="252.19,719.77 247.04,728.77 257.34,728.77" fill="#f00"/>
<polygon points="263.00,718.70 257.85,727.70 268.15,727.70" fill="#f00"/>
<polygon points="272.23,719.97 267.08,728.97 277.38,728.97" fill="#f00"/>
<polygon points="261.20,724.44 256.05,733.44 266.35,733.44" fill="#f00"/>
<polygon points="256.02,727.94 250.87,736.94 261.17,736.94" fill="#f00"/>
<polygon points="355.54,667.47 350.39,676.47 360.69,676.47" fill="#f00"/>
<polygon points="366.34,663.38 361.19,672.38 371.49,672.38" fill="#f00"/>
<polygon points="372.20,672.43 367.05,681.43 377.35,681.43" fill="#f00"/>
<circle cx="115.74" cy="800.30" r="4.20" fill="#00f"/>
<circle cx="305.78" cy="702.30" r="4.20" fill="#00f"/>
<circle cx="346.98" cy="690.34" r="4.20" fill="#00f"/>
<circle cx="371.07" cy="668.57" r="4.20" fill="#00f"/>
<circle cx="534.31" cy="650.87" r="4.20" fill="#00f"/>
<circle cx="606.37" cy="633.66" r="4.20" fill="#00f"/>
<g stroke="#000" stroke-width="2">
<line x1="114.62" y1="975.50" x2="114.62" y2="966.50"/>

<line x1="137.13" y1="975.50" x2="137.13" y2="970.50"/>
<line x1="159.65" y1="975.50" x2="159.65" y2="966.50"/>

<line x1="182.16" y1="975.50" x2="182.16" y2="970.50"/>
<line x1="204.68" y1="975.50" x2="204.68" y2="966.50"/>

<line x1="227.20" y1="975.50" x2="227.20" y2="970.50"/>
<line x1="249.71" y1="975.50" x2="249.71" y2="966.50"/>

<line x1="272.23" y1="975.50" x2="272.23" y2="970.50"/>
<line x1="294.74" y1="975.50" x2="294.74" y2="966.50"/>

<line x1="317.26" y1="975.50" x2="317.26" y2="970.50"/>
<line x1="339.78" y1="975.50" x2="339.78" y2="966.50"/>

<line x1="362.29" y1="975.50" x2="362.29" y2="970.50"/>
<line x1="384.81" y1="975.50" x2="384.81" y2="966.50"/>

<line x1="407.32" y1="975.50" x2="407.32" y2="970.50"/>
<line x1="429.84" y1="975.50" x2="429.84" y2="966.50"/>

<line x1="452.36" y1="975.50" x2="452.36" y2="970.50"/>
<line x1="474.87" y1="975.50" x2="474.87" y2="966.50"/>

<line x1="497.39" y1="975.50" x2="497.39" y2="970.50"/>
<line x1="519.90" y1="975.50" x2="519.90" y2="966.50"/>

<line x1="542.42" y1="975.50" x2="542.42" y2="970.50"/>
<line x1="564.94" y1="975.50" x2="564.94" y2="966.50"/>

<line x1="587.45" y1="975.50" x2="587.45" y2="970.50"/>
<line x1="609.97" y1="975.50" x2="609.97" y2="966.50"/>

<line x1="632.48" y1="975.50" x2="632.48" y2="970.50"/>
<line x1="655.00" y1="975.50" x2="655.00" y2="966.50"/>

<line x1="92.10" y1="975.50" x2="101.10" y2="975.50"/>

<line x1="92.10" y1="951.19" x2="97.10" y2="951.19"/>
<line x1="92.10" y1="926.89" x2="101.10" y2="926.89"/>

<line x1="92.10" y1="902.58" x2="97.10" y2="902.58"/>
<line x1="92.10" y1="878.28" x2="101.10" y2="878.28"/>

<line x1="92.10" y1="853.97" x2="97.10" y2="853.97"/>
<line x1="92.10" y1="829.66" x2="101.10" y2="829.66"/>

<line x1="92.10" y1="805.36" x2="97.10" y2="805.36"/>
<line x1="92.10" y1="781.05" x2="101.10" y2="781.05"/>

<line x1="92.10" y1="756.75" x2="97.10" y2="756.75"/>
<line x1="92.10" y1="732.44" x2="101.10" y2="732.44"/>

<line x1="92.10" y1="708.14" x2="97.10" y2="708.14"/>
<line x1="92.10" y1="683.83" x2="101.10" y2="683.83"/>

<line x1="92.10" y1="659.52" x2="97.10" y2="659.52"/>
<line x1="92.10" y1="635.22" x2="101.10" y2="635.22"/>

<line x1="92.10" y1="610.91" x2="97.10" y2="610.91"/>
<line x1="92.10" y1="586.61" x2="101.10" y2="586.61"/>

<line x1="92.10" y1="562.30" x2="97.10" y2="562.30"/>
<rect x="92.10" y="562.30" width="562.90" height="413.20" fill="none"/>
</g>



<rect x="127.25" y="575.45" width="7.60" height="7.60" fill="#000"/>
<polygon points="131.10,600.85 125.95,609.85 136.25,609.85" fill="#f00"/>
<circle cx="131.05" cy="634.00" r="4.20" fill="#00f"/>



<line x1="149.1" y1="891.0" x2="199.8" y2="891.0" stroke="#000" stroke-width="1.05"/>
<line x1="149.1" y1="918.4" x2="197.2" y2="918.4" stroke="#f00" stroke-width="1.05" stroke-dasharray="4,2.8"/>
<line x1="149.1" y1="945.4" x2="197.2" y2="945.4" stroke="#00f" stroke-width="1.05" stroke-dasharray="2,2"/>


<g opacity="0.999" stroke="#000" stroke-width="0.3"><text transform="translate(101.64,463.90)" font-size="24.40" text-anchor="middle">0.0</text>
<text transform="translate(149.11,463.90)" font-size="24.40" text-anchor="middle">0.2</text>
<text transform="translate(196.58,463.90)" font-size="24.40" text-anchor="middle">0.4</text>
<text transform="translate(244.05,463.90)" font-size="24.40" text-anchor="middle">0.6</text>
<text transform="translate(291.52,463.90)" font-size="24.40" text-anchor="middle">0.8</text>
<text transform="translate(339.00,463.90)" font-size="24.40" text-anchor="middle">1.0</text>
<text transform="translate(386.47,463.90)" font-size="24.40" text-anchor="middle">1.2</text>
<text transform="translate(433.94,463.90)" font-size="24.40" text-anchor="middle">1.4</text>
<text transform="translate(481.41,463.90)" font-size="24.40" text-anchor="middle">1.6</text>
<text transform="translate(528.88,463.90)" font-size="24.40" text-anchor="middle">1.8</text>
<text transform="translate(576.36,463.90)" font-size="24.40" text-anchor="middle">2.0</text>
<text transform="translate(623.83,463.90)" font-size="24.40" text-anchor="middle">2.2</text>
<text transform="translate(671.30,463.90)" font-size="24.40" text-anchor="middle">2.4</text>
<text transform="translate(69.00,444.00)" font-size="24.30" text-anchor="end">150</text>
<text transform="translate(69.00,376.95)" font-size="24.30" text-anchor="end">200</text>
<text transform="translate(69.00,309.91)" font-size="24.30" text-anchor="end">250</text>
<text transform="translate(69.00,242.86)" font-size="24.30" text-anchor="end">300</text>
<text transform="translate(69.00,175.82)" font-size="24.30" text-anchor="end">350</text>
<text transform="translate(69.00,108.77)" font-size="24.30" text-anchor="end">400</text>
<text transform="translate(69.00,41.72)" font-size="24.30" text-anchor="end">450</text>
<text transform="translate(148.40,21.00) scale(0.9620,1)" font-size="24.10">PAE with one pass</text>
<text transform="translate(148.40,49.90) scale(0.9620,1)" font-size="24.10">PAE with multi passes</text>
<text transform="translate(148.40,78.70) scale(0.9620,1)" font-size="24.10">Thread rolling</text>
<text transform="translate(148.40,107.60) scale(0.9620,1)" font-size="24.10">First-order polynomial</text>
<text transform="translate(148.40,136.30) scale(0.9620,1)" font-size="24.10">Second-order polynomial</text>
<text transform="translate(148.40,165.10) scale(0.9620,1)" font-size="24.10">Third-order polynomial</text>
<text transform="translate(374.30,503.80) scale(0.9650,1)" font-size="24.00" text-anchor="middle">Equivalent strain</text>
<text transform="translate(16.90,234.20) rotate(-90) scale(0.9630,1)" font-size="24.20" text-anchor="middle">Hardness (HV0.5)</text>
<text transform="translate(114.62,1001.50)" font-size="23.30" text-anchor="middle">0.0</text>
<text transform="translate(159.65,1001.50)" font-size="23.30" text-anchor="middle">0.2</text>
<text transform="translate(204.68,1001.50)" font-size="23.30" text-anchor="middle">0.4</text>
<text transform="translate(249.71,1001.50)" font-size="23.30" text-anchor="middle">0.6</text>
<text transform="translate(294.74,1001.50)" font-size="23.30" text-anchor="middle">0.8</text>
<text transform="translate(339.78,1001.50)" font-size="23.30" text-anchor="middle">1.0</text>
<text transform="translate(384.81,1001.50)" font-size="23.30" text-anchor="middle">1.2</text>
<text transform="translate(429.84,1001.50)" font-size="23.30" text-anchor="middle">1.4</text>
<text transform="translate(474.87,1001.50)" font-size="23.30" text-anchor="middle">1.6</text>
<text transform="translate(519.90,1001.50)" font-size="23.30" text-anchor="middle">1.8</text>
<text transform="translate(564.94,1001.50)" font-size="23.30" text-anchor="middle">2.0</text>
<text transform="translate(609.97,1001.50)" font-size="23.30" text-anchor="middle">2.2</text>
<text transform="translate(655.00,1001.50)" font-size="23.30" text-anchor="middle">2.4</text>
<text transform="translate(84.00,982.80)" font-size="23.60" text-anchor="end">0</text>
<text transform="translate(84.00,934.19)" font-size="23.60" text-anchor="end">50</text>
<text transform="translate(84.00,885.58)" font-size="23.60" text-anchor="end">100</text>
<text transform="translate(84.00,836.96)" font-size="23.60" text-anchor="end">150</text>
<text transform="translate(84.00,788.35)" font-size="23.60" text-anchor="end">200</text>
<text transform="translate(84.00,739.74)" font-size="23.60" text-anchor="end">250</text>
<text transform="translate(84.00,691.13)" font-size="23.60" text-anchor="end">300</text>
<text transform="translate(84.00,642.52)" font-size="23.60" text-anchor="end">350</text>
<text transform="translate(84.00,593.91)" font-size="23.60" text-anchor="end">400</text>
<text transform="translate(161.57,586.70) scale(0.9540,1)" font-size="23.05">PAE with one pass</text>
<text transform="translate(161.57,614.10) scale(0.9540,1)" font-size="23.05">PAE with multi passes</text>
<text transform="translate(161.57,641.20) scale(0.9540,1)" font-size="23.05">Thread rolling</text>
<text transform="translate(204.77,898.50) scale(0.9540,1)" font-size="23.05">Power function without constant</text>
<text transform="translate(204.77,925.70) scale(0.9540,1)" font-size="23.05">Power function with initial hardness</text>
<text transform="translate(204.77,952.80) scale(0.9540,1)" font-size="23.05">Power function with fitting constant</text>
<text transform="translate(373.25,1039.00) scale(0.9700,1)" font-size="22.70" text-anchor="middle">Equivalent strain</text>
<text transform="translate(34.20,783.90) rotate(-90) scale(0.9450,1)" font-size="23.40" text-anchor="middle">Hardness (HV0.5)</text></g>
<line x1="384.81" y1="562.30" x2="384.81" y2="975.50" stroke="#333" stroke-width="1.4"/>
</svg></body></html>
